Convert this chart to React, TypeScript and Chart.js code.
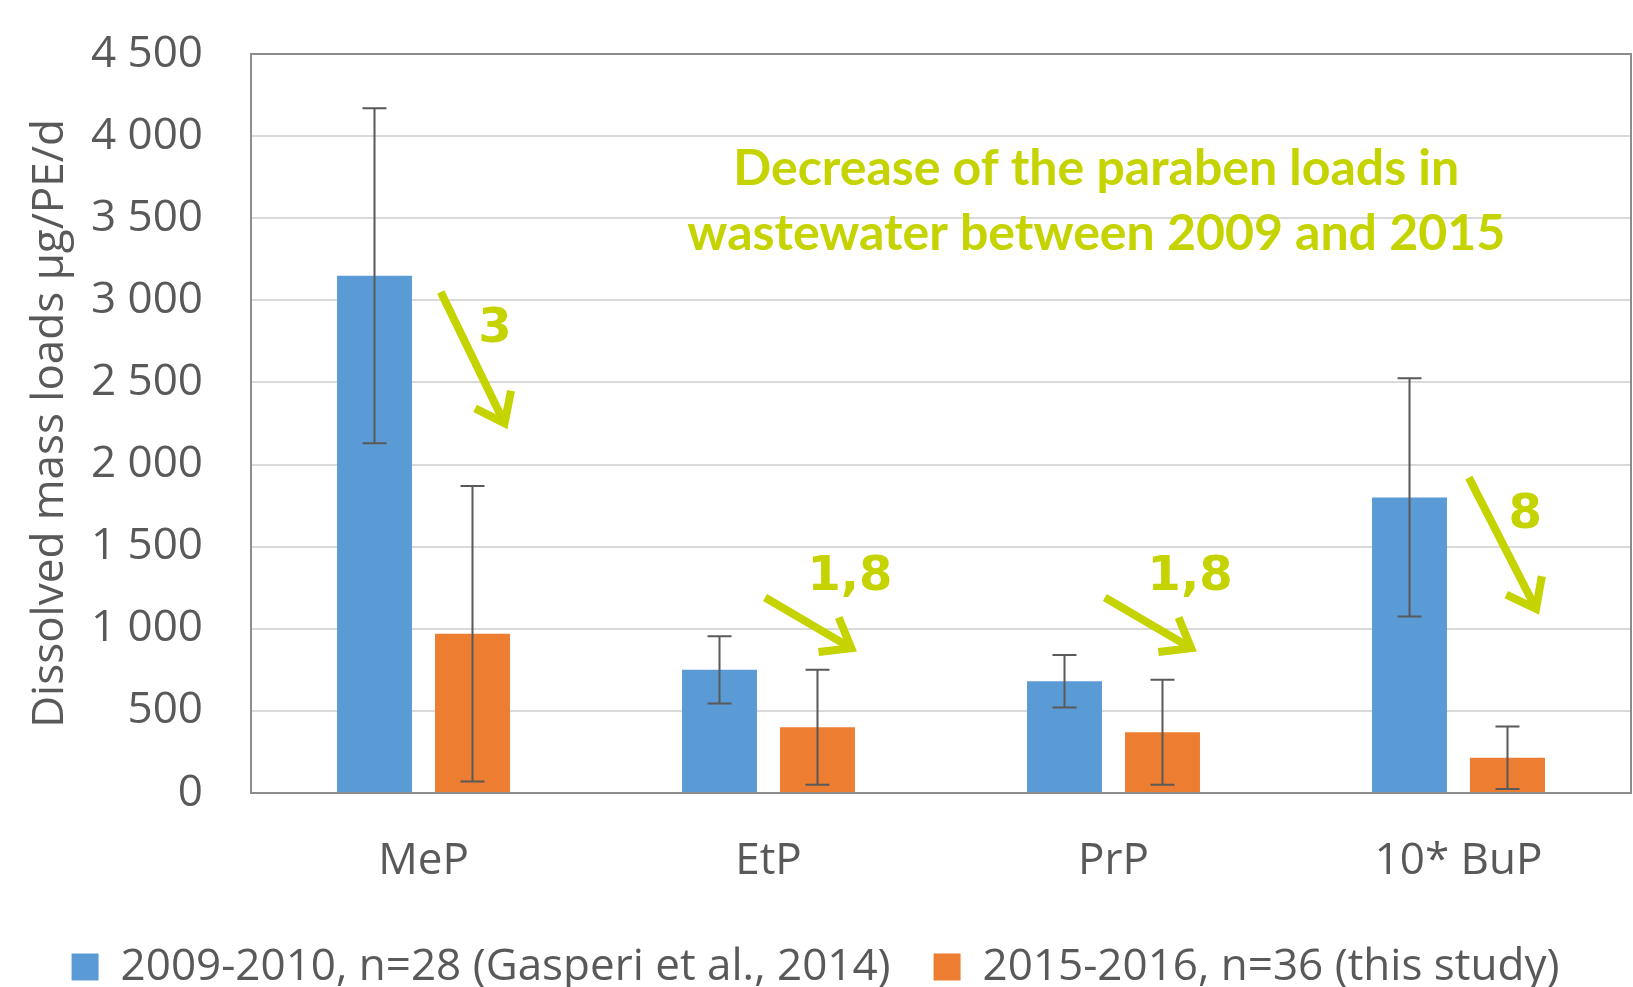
import React, { useEffect, useRef } from "react";
import { Chart, registerables } from "chart.js";

Chart.register(...registerables);

// ---------- data ----------
const categories = ["MeP", "EtP", "PrP", "10* BuP"];
const seriesLabels = ["2009-2010, n=28 (Gasperi et al., 2014)", "2015-2016, n=36 (this study)"];
const loads2009 = [3150, 750, 680, 1800];
const errors2009 = [1020, 205, 160, 725];
const loads2015 = [970, 400, 370, 215];
const errors2015 = [900, 350, 320, 190];
const yMin = 0;
const yMax = 4500;
const yStep = 500;
const yTitle = "Dissolved mass loads µg/PE/d";

// annotation text
const noteLines = ["Decrease of the paraben loads in", "wastewater between 2009 and 2015"];
const decreaseFactors = ["3", "1,8", "1,8", "8"];

// annotation anchors in data space: [category index (fractional), value]
const noteAnchors = [
  [1.95, 3702],
  [1.95, 3306],
];
const arrowStarts = [
  [0.05, 3050],
  [0.99, 1190],
  [1.975, 1190],
  [3.03, 1920],
];
const arrowEnds = [
  [0.24, 2230],
  [1.25, 870],
  [2.235, 870],
  [3.23, 1100],
];
const factorAnchors = [
  [0.207, 2820],
  [1.236, 1310],
  [2.222, 1310],
  [3.193, 1690],
];

// ---------- styles ----------
const BLUE = "#5B9BD5";
const ORANGE = "#ED7D31";
const LIME = "#C5D300";
const TEXT = "#595959";
const AXIS = "#8C8C8C";
const GRID = "#D9D9D9";
const FONT = "'Open Sans', sans-serif";
const NOTE_FONT = "Lato, 'Open Sans', sans-serif";
const FACTOR_FONT = "'DejaVu Sans', 'Open Sans', sans-serif";

const fmt = (v: number) => String(v).replace(/\B(?=(\d{3})+(?!\d))/g, " ");

const framePlugin = {
  id: "frame",
  beforeDatasetsDraw(chart: any) {
    const { ctx, chartArea } = chart;
    ctx.save();
    ctx.strokeStyle = AXIS;
    ctx.lineWidth = 2;
    ctx.strokeRect(chartArea.left, chartArea.top, chartArea.right - chartArea.left, chartArea.bottom - chartArea.top);
    ctx.restore();
  },
};

const errorBarPlugin = {
  id: "errorBars",
  afterDatasetsDraw(chart: any) {
    const { ctx } = chart;
    const ys = chart.scales.y;
    chart.data.datasets.forEach((ds: any, di: number) => {
      const meta = chart.getDatasetMeta(di);
      meta.data.forEach((bar: any, i: number) => {
        const v = ds.data[i];
        const e = ds.errors[i];
        const x = bar.x;
        const yTop = ys.getPixelForValue(v + e);
        const yBot = ys.getPixelForValue(Math.max(v - e, 0));
        ctx.save();
        ctx.strokeStyle = TEXT;
        ctx.lineWidth = 2;
        ctx.beginPath();
        ctx.moveTo(x, yTop);
        ctx.lineTo(x, yBot);
        ctx.moveTo(x - 12, yTop);
        ctx.lineTo(x + 12, yTop);
        ctx.moveTo(x - 12, yBot);
        ctx.lineTo(x + 12, yBot);
        ctx.stroke();
        ctx.restore();
      });
    });
  },
};

const annotationPlugin = {
  id: "notes",
  afterDraw(chart: any) {
    const { ctx } = chart;
    const xs = chart.scales.x;
    const ys = chart.scales.y;
    const px = (p: number[]) => [xs.getPixelForValue(p[0]), ys.getPixelForValue(p[1])];
    ctx.save();
    ctx.fillStyle = LIME;
    ctx.strokeStyle = LIME;
    // note text
    ctx.font = `bold 50px ${NOTE_FONT}`;
    ctx.textAlign = "center";
    ctx.textBaseline = "alphabetic";
    noteLines.forEach((t, i) => {
      const [x, y] = px(noteAnchors[i]);
      ctx.fillText(t, x, y);
    });
    // arrows
    ctx.lineWidth = 8;
    ctx.lineCap = "butt";
    ctx.lineJoin = "miter";
    arrowStarts.forEach((s, i) => {
      const [x1, y1] = px(s);
      const [x2, y2] = px(arrowEnds[i]);
      const ang = Math.atan2(y2 - y1, x2 - x1);
      const head = 33;
      const spread = 0.65;
      const tipX = x2 - Math.cos(ang) * 4;
      const tipY = y2 - Math.sin(ang) * 4;
      ctx.beginPath();
      ctx.moveTo(x1, y1);
      ctx.lineTo(tipX, tipY);
      ctx.stroke();
      ctx.beginPath();
      ctx.moveTo(tipX - head * Math.cos(ang - spread), tipY - head * Math.sin(ang - spread));
      ctx.lineTo(tipX, tipY);
      ctx.lineTo(tipX - head * Math.cos(ang + spread), tipY - head * Math.sin(ang + spread));
      ctx.stroke();
    });
    // factors
    ctx.font = `bold 48px ${FACTOR_FONT}`;
    ctx.textBaseline = "middle";
    decreaseFactors.forEach((t, i) => {
      const [x, y] = px(factorAnchors[i]);
      ctx.fillText(t, x, y);
    });
    ctx.restore();
  },
};

export default function App() {
  const canvasRef = useRef<HTMLCanvasElement | null>(null);

  useEffect(() => {
    if (!canvasRef.current) return;
    const chart = new Chart(canvasRef.current, {
      type: "bar",
      data: {
        labels: categories,
        datasets: [
          {
            label: seriesLabels[0],
            data: loads2009,
            errors: errors2009,
            backgroundColor: BLUE,
            borderWidth: 0,
            categoryPercentage: 0.568,
            barPercentage: 0.765,
          } as any,
          {
            label: seriesLabels[1],
            data: loads2015,
            errors: errors2015,
            backgroundColor: ORANGE,
            borderWidth: 0,
            categoryPercentage: 0.568,
            barPercentage: 0.765,
          } as any,
        ],
      },
      options: {
        animation: false,
        responsive: false,
        devicePixelRatio: 1,
        layout: { padding: { top: 54, left: 0, right: 2, bottom: -12 } },
        plugins: {
          tooltip: { enabled: false },
          legend: {
            position: "bottom",
            labels: {
              boxWidth: 27,
              boxHeight: 27,
              padding: 43,
              color: TEXT,
              font: { family: FONT, size: 44 },
            },
          },
        },
        scales: {
          x: {
            grid: { display: false, drawTicks: false },
            border: { display: true, color: AXIS, width: 2 },
            ticks: { color: TEXT, font: { family: FONT, size: 44 }, padding: 42 },
            afterFit(axis: any) {
              axis.height = 109;
              axis.paddingLeft = 0;
              axis.paddingRight = 0;
            },
          },
          y: {
            min: yMin,
            max: yMax,
            grid: { color: GRID, lineWidth: 2, drawTicks: false },
            border: { display: true, color: AXIS, width: 2 },
            ticks: {
              stepSize: yStep,
              color: TEXT,
              font: { family: FONT, size: 44 },
              padding: 48,
              callback: (v: any) => fmt(Number(v)),
            },
            title: {
              display: true,
              text: yTitle,
              color: TEXT,
              font: { family: FONT, size: 44 },
              padding: { top: 24, bottom: 0 },
            },
            afterFit(axis: any) {
              axis.width = 251;
              axis.paddingTop = 20;
              axis.paddingBottom = 20;
            },
          },
        },
      } as any,
      plugins: [framePlugin, errorBarPlugin, annotationPlugin],
    });
    return () => chart.destroy();
  }, []);

  return (
    <div style={{ position: "fixed", left: 0, top: 0, width: 1633, height: 987, background: "#fff" }}>
      <canvas ref={canvasRef} width={1633} height={987} style={{ width: 1633, height: 987 }} />
    </div>
  );
}
